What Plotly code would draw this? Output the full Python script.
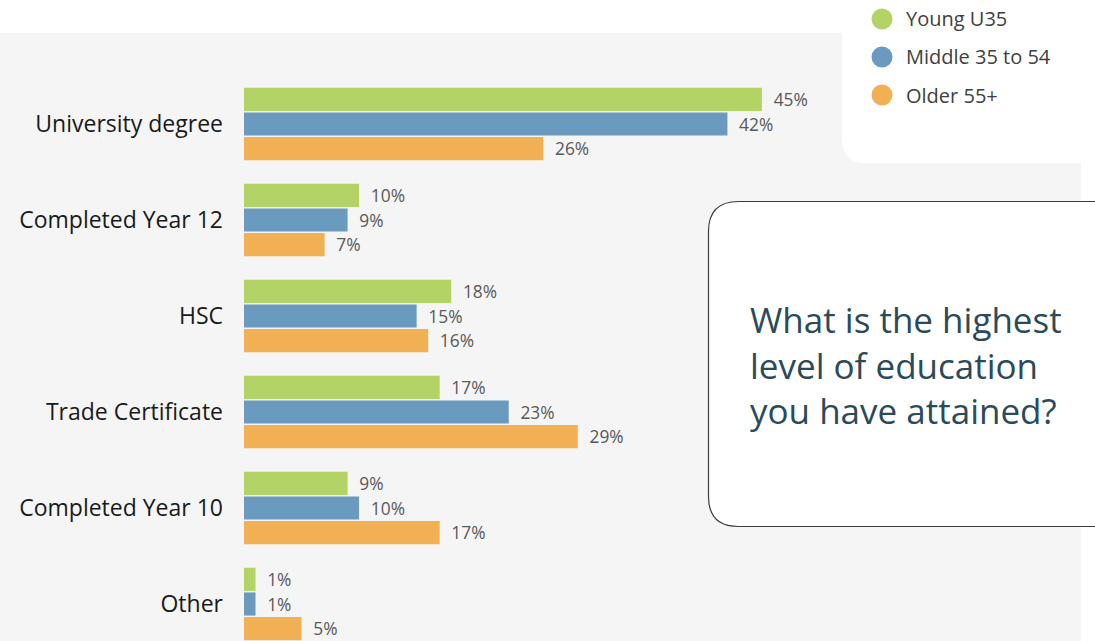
import plotly.graph_objects as go

# Survey responses: highest level of education attained, by age group (%)
categories = ["University degree", "Completed Year 12", "HSC",
              "Trade Certificate", "Completed Year 10", "Other"]
series_names = ["Young U35", "Middle 35 to 54", "Older 55+"]
young = [45, 10, 18, 17, 9, 1]
middle = [42, 9, 15, 23, 10, 1]
older = [26, 7, 16, 29, 17, 5]
question = "What is the highest<br>level of education<br>you have attained?"

colors = ["#b3d465", "#6a9bbf", "#f2b054"]
FONT = "Open Sans"

W, H = 1095, 641
L, R, T, B = 244, 0, 76, 0
PW, PH = W - L - R, H - T - B


def px_x(x):
    return (x - L) / PW


def px_y(y):
    return 1 - (y - T) / PH


fig = go.Figure()
for name, vals, col in zip(series_names, [young, middle, older], colors):
    fig.add_trace(go.Bar(
        y=categories, x=vals, name=name, orientation="h",
        marker=dict(color=col, line=dict(width=0)),
        text=vals, texttemplate="\u2002%{x}%", textposition="outside",
        textfont=dict(family=FONT, size=18, color="#595959"),
        cliponaxis=False, showlegend=False,
    ))

shapes = []
# light grey panel behind the chart
shapes.append(dict(type="rect", xref="paper", yref="paper", layer="below",
                   x0=px_x(0), x1=px_x(1081), y0=px_y(641), y1=px_y(33),
                   fillcolor="#f5f5f5", line=dict(width=0)))
# white legend card with rounded lower-left corner
lx0, lx1, ly1, rad = 842, 1095, 163, 24
path = (f"M {px_x(lx0)},{px_y(0)} L {px_x(lx1)},{px_y(0)} L {px_x(lx1)},{px_y(ly1)} "
        f"L {px_x(lx0 + rad)},{px_y(ly1)} Q {px_x(lx0)},{px_y(ly1)} {px_x(lx0)},{px_y(ly1 - rad)} Z")
shapes.append(dict(type="path", xref="paper", yref="paper", layer="below", path=path,
                   fillcolor="white", line=dict(width=0)))
# question card with rounded corners
qx0, qx1, qy0, qy1, qr = 708.5, 1125, 201.5, 526.5, 30
qpath = (f"M {px_x(qx0 + qr)},{px_y(qy0)} L {px_x(qx1)},{px_y(qy0)} L {px_x(qx1)},{px_y(qy1)} "
         f"L {px_x(qx0 + qr)},{px_y(qy1)} Q {px_x(qx0)},{px_y(qy1)} {px_x(qx0)},{px_y(qy1 - qr)} "
         f"L {px_x(qx0)},{px_y(qy0 + qr)} Q {px_x(qx0)},{px_y(qy0)} {px_x(qx0 + qr)},{px_y(qy0)} Z")
shapes.append(dict(type="path", xref="paper", yref="paper", layer="above", path=qpath,
                   fillcolor="white", line=dict(color="#3a3a3a", width=1.2)))

annotations = [dict(xref="paper", yref="paper", x=px_x(748), y=px_y(365),
                    xanchor="left", yanchor="middle", align="left", showarrow=False,
                    text=question, font=dict(family=FONT, size=35, color="#2b4a5a"))]

# legend entries: coloured dots with labels
for i, (name, col) in enumerate(zip(series_names, colors)):
    cy = 19 + 38 * i
    shapes.append(dict(type="circle", xref="paper", yref="paper", layer="above",
                       x0=px_x(871.5), x1=px_x(892.5), y0=px_y(cy + 10.5), y1=px_y(cy - 10.5),
                       fillcolor=col, line=dict(width=0)))
    annotations.append(dict(xref="paper", yref="paper", x=px_x(904), y=px_y(cy),
                            xanchor="left", yanchor="middle", showarrow=False,
                            text=name, font=dict(family=FONT, size=20, color="#404040")))

fig.update_layout(
    width=W, height=H, autosize=False,
    margin=dict(l=L, r=R, t=T, b=B, pad=0),
    paper_bgcolor="white", plot_bgcolor="rgba(0,0,0,0)",
    barmode="group", bargap=0.23, bargroupgap=0.06,
    shapes=shapes, annotations=annotations,
    xaxis=dict(range=[0, PW / 11.51], visible=False, showgrid=False, zeroline=False),
    yaxis=dict(type="category", range=[(H - T) / 96 - 0.5, -0.5],
               showgrid=False, zeroline=False, showline=False, ticks="",
               ticklabelstandoff=20,
               tickfont=dict(family=FONT, size=23, color="#1a1a1a")),
    font=dict(family=FONT),
)

fig.write_html("out.html")
